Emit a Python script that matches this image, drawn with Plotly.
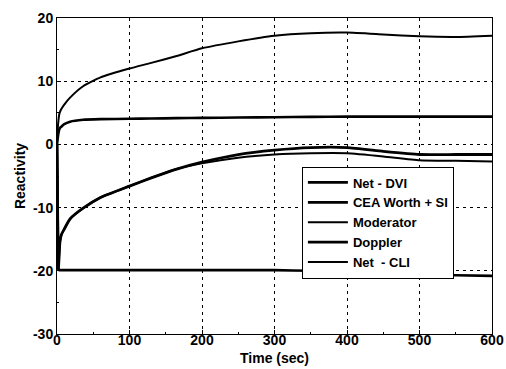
import plotly.graph_objects as go

# Time (sec)
time_s = [0, 1, 2, 3, 4, 6, 10, 18, 36, 60, 100, 130, 165, 200, 250, 300, 350, 400, 450, 500, 550, 600]

net_dvi = [0, -12, -19.8, -17.5, -15.5, -14.3, -13.4, -11.8, -10.1, -8.4, -6.6, -5.3, -3.9, -2.8, -1.6, -0.9, -0.5, -0.5, -1.1, -1.6, -1.6, -1.6]
cea_worth_si = [0, -12, -19.7, -19.9, -19.9, -19.9, -19.9, -19.9, -19.9, -19.9, -19.9, -19.9, -19.9, -19.9, -19.9, -19.9, -20.0, -20.1, -20.3, -20.5, -20.7, -20.8]
moderator = [0, 2.5, 3.8, 4.7, 5.1, 5.6, 6.3, 7.4, 9.2, 10.6, 12.0, 12.9, 14.0, 15.2, 16.3, 17.2, 17.6, 17.7, 17.4, 17.1, 17.0, 17.2]
doppler = [0, 1.0, 1.8, 2.3, 2.6, 2.8, 3.2, 3.6, 3.9, 4.0, 4.05, 4.1, 4.15, 4.2, 4.25, 4.3, 4.35, 4.4, 4.4, 4.4, 4.4, 4.4]
net_cli = [0, -12, -19.8, -17.5, -15.5, -14.3, -13.4, -11.8, -10.1, -8.4, -6.6, -5.3, -3.9, -3.0, -2.1, -1.6, -1.4, -1.4, -1.9, -2.5, -2.6, -2.7]

series = [
    ("Net - DVI", net_dvi, 2.8),
    ("CEA Worth + SI", cea_worth_si, 2.6),
    ("Moderator", moderator, 2.0),
    ("Doppler", doppler, 2.6),
    ("Net  - CLI", net_cli, 2.0),
]

x_ticks = [0, 100, 200, 300, 400, 500, 600]
y_ticks = [-30, -20, -10, 0, 10, 20]

FONT = "Liberation Sans, Arial, sans-serif"
TFONT = dict(family=FONT, size=14, color="black", weight="bold")

fig = go.Figure()
for name, vals, w in series:
    fig.add_trace(go.Scatter(x=time_s, y=vals, mode="lines", name=name,
                             line=dict(color="black", width=w, shape="spline", smoothing=0.5)))

axis_common = dict(
    showline=True, linecolor="black", linewidth=1, mirror=True,
    showgrid=True, gridcolor="black", gridwidth=1, griddash="3px,4px",
    ticks="inside", ticklen=4, tickcolor="black", zeroline=False,
    automargin=False,
    tickfont=TFONT,
)

fig.update_xaxes(range=[0, 600], tickvals=x_ticks, ticktext=[str(v) for v in x_ticks],
                 ticklabelstandoff=-7,
                 minor=dict(ticks="inside", ticklen=2, dtick=50, tickcolor="black", showgrid=False),
                 **axis_common)
fig.update_yaxes(range=[-30, 20], tickvals=y_ticks, ticktext=[str(v) for v in y_ticks],
                 title=dict(text="Reactivity", standoff=4, font=TFONT),
                 minor=dict(ticks="inside", ticklen=2, dtick=5, tickcolor="black", showgrid=False),
                 **axis_common)

fig.add_annotation(text="Time (sec)", xref="paper", yref="paper", x=0.5, y=0,
                   xanchor="center", yanchor="middle", yshift=-24, showarrow=False,
                   font=TFONT)

fig.update_layout(
    width=506, height=369,
    margin=dict(l=57, r=14, t=18, b=35),
    paper_bgcolor="white", plot_bgcolor="white",
    showlegend=True,
    legend=dict(x=0.563, y=0.53, xanchor="left", yanchor="top",
                bgcolor="white", bordercolor="black", borderwidth=1,
                font=dict(family=FONT, size=13, color="black", weight="bold"),
                tracegroupgap=0, itemwidth=40),
)

fig.write_html("out.html")
